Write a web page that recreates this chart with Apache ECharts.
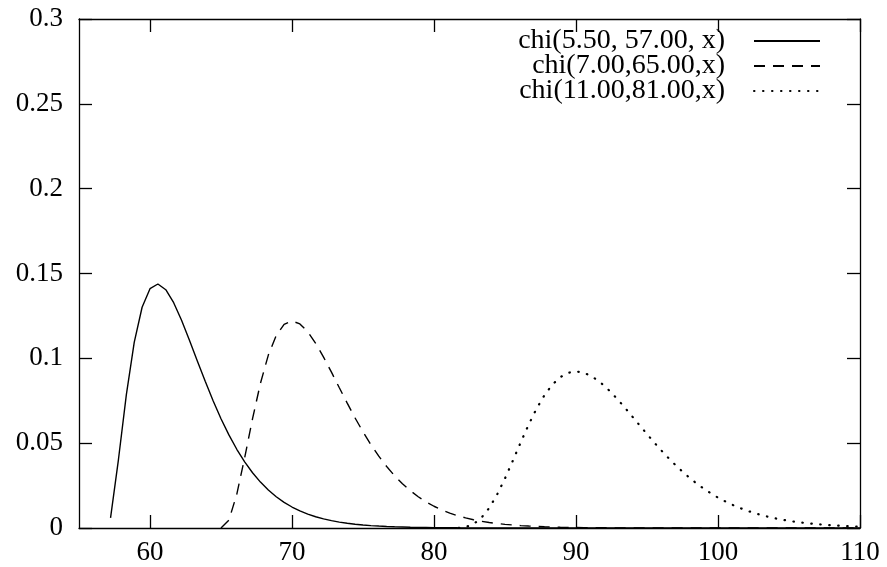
<!DOCTYPE html>
<html>
<head>
<meta charset="utf-8">
<script src="https://cdn.jsdelivr.net/npm/echarts@6/dist/echarts.min.js"></script>
<style>html,body{margin:0;padding:0;background:#fff}#c{width:887px;height:567px}</style>
</head>
<body>
<div id="c"></div>
<script>
// sample positions along x (gnuplot-style sampling)
var xSamples = [55, 55.556, 56.111, 56.667, 57.222, 57.778, 58.333, 58.889, 59.444, 60,
  60.556, 61.111, 61.667, 62.222, 62.778, 63.333, 63.889, 64.444, 65, 65.556,
  66.111, 66.667, 67.222, 67.778, 68.333, 68.889, 69.444, 70, 70.556, 71.111,
  71.667, 72.222, 72.778, 73.333, 73.889, 74.444, 75, 75.556, 76.111, 76.667,
  77.222, 77.778, 78.333, 78.889, 79.444, 80, 80.556, 81.111, 81.667, 82.222,
  82.778, 83.333, 83.889, 84.444, 85, 85.556, 86.111, 86.667, 87.222, 87.778,
  88.333, 88.889, 89.444, 90, 90.556, 91.111, 91.667, 92.222, 92.778, 93.333,
  93.889, 94.444, 95, 95.556, 96.111, 96.667, 97.222, 97.778, 98.333, 98.889,
  99.444, 100, 100.556, 101.111, 101.667, 102.222, 102.778, 103.333, 103.889, 104.444,
  105, 105.556, 106.111, 106.667, 107.222, 107.778, 108.333, 108.889, 109.444, 110];

var seriesNames = ['chi(5.50, 57.00, x)', 'chi(7.00,65.00,x)', 'chi(11.00,81.00,x)'];

var ySolid = [null, null, null, null, 0.00595, 0.04035, 0.07851, 0.10939, 0.13011, 0.14103,
  0.14381, 0.14044, 0.13280, 0.12247, 0.11072, 0.09849, 0.08643, 0.07498, 0.06442, 0.05488,
  0.04641, 0.03899, 0.03256, 0.02706, 0.02238, 0.01843, 0.01513, 0.01237, 0.01008, 0.00819,
  0.00664, 0.00537, 0.00433, 0.00348, 0.00280, 0.00224, 0.00179, 0.00143, 0.00114, 0.00091,
  0.00072, 0.00058, 0.00046, 0.00036, 0.00029, 0.00023, 0.00018, 0.00014, 0.00011, 0.00009,
  0.00007, 0.00005, 0.00004, 0.00003, 0.00003, 0.00002, 0.00002, 0.00001, 0.00001, 0.00001,
  0, 0, 0, 0, 0, 0, 0, 0, 0, 0,
  0, 0, 0, 0, 0, 0, 0, 0, 0, 0,
  0, 0, 0, 0, 0, 0, 0, 0, 0, 0,
  0, 0, 0, 0, 0, 0, 0, 0, 0, 0];

var yDashed = [null, null, null, null, null, null, null, null, null, null,
  null, null, null, null, null, null, null, null, 0, 0.00464,
  0.01985, 0.04146, 0.06446, 0.08530, 0.10191, 0.11348, 0.12002, 0.12204, 0.12030, 0.11564,
  0.10887, 0.10074, 0.09184, 0.08266, 0.07357, 0.06485, 0.05667, 0.04914, 0.04232, 0.03622,
  0.03081, 0.02608, 0.02197, 0.01843, 0.01540, 0.01282, 0.01063, 0.00879, 0.00725, 0.00596,
  0.00488, 0.00399, 0.00326, 0.00266, 0.00216, 0.00175, 0.00142, 0.00115, 0.00093, 0.00075,
  0.00060, 0.00048, 0.00039, 0.00031, 0.00025, 0.00020, 0.00016, 0.00013, 0.00010, 0.00008,
  0.00007, 0.00005, 0.00004, 0.00003, 0.00003, 0.00002, 0.00002, 0.00001, 0.00001, 0.00001,
  0.00001, 0.00001, 0, 0, 0, 0, 0, 0, 0, 0,
  0, 0, 0, 0, 0, 0, 0, 0, 0, 0];

var yDotted = [null, null, null, null, null, null, null, null, null, null,
  null, null, null, null, null, null, null, null, null, null,
  null, null, null, null, null, null, null, null, null, null,
  null, null, null, null, null, null, null, null, null, null,
  null, null, null, null, null, null, null, 0, 0.00005, 0.00057,
  0.00231, 0.00595, 0.01179, 0.01970, 0.02924, 0.03977, 0.05056, 0.06093, 0.07031, 0.07826,
  0.08450, 0.08891, 0.09148, 0.09230, 0.09154, 0.08942, 0.08616, 0.08202, 0.07721, 0.07197,
  0.06647, 0.06088, 0.05533, 0.04993, 0.04476, 0.03989, 0.03534, 0.03115, 0.02732, 0.02385,
  0.02073, 0.01795, 0.01548, 0.01330, 0.01139, 0.00972, 0.00827, 0.00702, 0.00594, 0.00501,
  0.00422, 0.00354, 0.00297, 0.00248, 0.00207, 0.00172, 0.00143, 0.00119, 0.00098, 0.00081];

var xTicks = [60, 70, 80, 90, 100, 110];

function pairs(ys) {
  var out = [];
  for (var i = 0; i < xSamples.length; i++) {
    if (ys[i] !== null) out.push([xSamples[i], ys[i]]);
  }
  return out;
}

var FONT = '"Liberation Serif", "Times New Roman", serif';
var chart = echarts.init(document.getElementById('c'), null, {renderer: 'canvas'});

var styles = [
  {color: '#000', width: 1.4, type: 'solid'},
  {color: '#000', width: 1.4, type: [11, 8]},
  {color: '#000', width: 2.2, type: [0.5, 8.5], cap: 'round'}
];

var legendTops = [22, 47, 72];

var option = {
  animation: false,
  backgroundColor: '#fff',
  grid: {left: 79, right: 27, top: 19, bottom: 39, show: false},
  xAxis: [{
    type: 'value', min: 55, max: 110, position: 'bottom',
    axisLine: {show: true, onZero: false, lineStyle: {color: '#000', width: 1.3}},
    axisTick: {show: true, inside: true, length: 13, customValues: xTicks, lineStyle: {color: '#000', width: 1.3}},
    axisLabel: {show: true, customValues: xTicks, margin: 11, color: '#000', fontFamily: FONT, fontSize: 27},
    splitLine: {show: false}
  }, {
    type: 'value', min: 55, max: 110, position: 'top',
    axisLine: {show: true, onZero: false, lineStyle: {color: '#000', width: 1.3}},
    axisTick: {show: true, inside: true, length: 13, customValues: xTicks, lineStyle: {color: '#000', width: 1.3}},
    axisLabel: {show: false},
    splitLine: {show: false}
  }],
  yAxis: [{
    type: 'value', min: 0, max: 0.3, interval: 0.05, position: 'left',
    axisLine: {show: true, onZero: false, lineStyle: {color: '#000', width: 1.3}},
    axisTick: {show: true, inside: true, length: 13, lineStyle: {color: '#000', width: 1.3}},
    axisLabel: {show: true, margin: 16, color: '#000', fontFamily: FONT, fontSize: 27},
    splitLine: {show: false}
  }, {
    type: 'value', min: 0, max: 0.3, interval: 0.05, position: 'right',
    axisLine: {show: true, onZero: false, lineStyle: {color: '#000', width: 1.3}},
    axisTick: {show: true, inside: true, length: 13, lineStyle: {color: '#000', width: 1.3}},
    axisLabel: {show: false},
    splitLine: {show: false}
  }],
  legend: seriesNames.map(function (n, k) {
    return {
      data: [n], right: 61, top: legendTops[k], orient: 'vertical', align: 'right',
      itemWidth: 66, itemHeight: 14, selectedMode: false,
      itemStyle: {opacity: 0, borderWidth: 0},
      textStyle: {color: '#000', fontFamily: FONT, fontSize: 28, padding: [0, 24, 0, 0]}
    };
  }),
  series: [ySolid, yDashed, yDotted].map(function (ys, k) {
    return {
      name: seriesNames[k], type: 'line', xAxisIndex: 0, yAxisIndex: 0,
      data: pairs(ys), symbol: 'none', smooth: false,
      lineStyle: styles[k], itemStyle: {color: '#000'}
    };
  })
};
chart.setOption(option);
</script>
</body>
</html>
